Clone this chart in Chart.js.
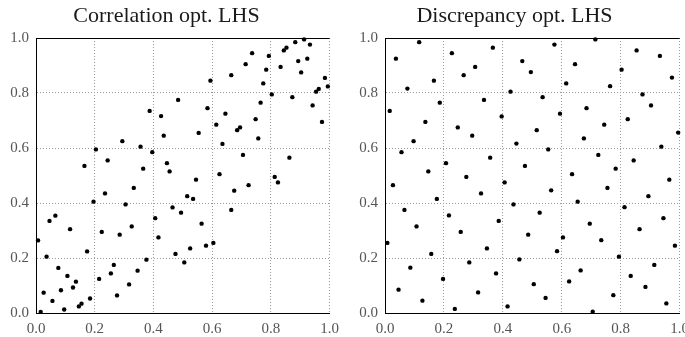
<!DOCTYPE html>
<html>
<head>
<meta charset="utf-8">
<script src="https://cdn.jsdelivr.net/npm/chart.js@4"></script>
<style>
  html, body { margin: 0; padding: 0; background: #fff; overflow: hidden; }
  #wrap { position: relative; width: 685px; height: 337px; overflow: hidden; }
  canvas { position: absolute; top: 0; }
</style>
</head>
<body>
<div id="wrap">
  <canvas id="corr" width="346" height="337" style="left:0"></canvas>
  <canvas id="disc" width="350" height="337" style="left:346px"></canvas>
</div>
<script>
// Correlation optimised LHS
const corrX = [0.484, 0.387, 0.426, 0.435, 0.294, 0.356, 0.204, 0.396, 0.165, 0.244,
  0.446, 0.365, 0.455, 0.333, 0.235, 0.196, 0.305, 0.465, 0.007, 0.046,
  0.066, 0.116, 0.406, 0.224, 0.285, 0.326, 0.417, 0.174, 0.475, 0.036,
  0.376, 0.076, 0.265, 0.107, 0.255, 0.346, 0.136, 0.215, 0.126, 0.317,
  0.026, 0.085, 0.056, 0.276, 0.184, 0.155, 0.146, 0.096, 0.016, 0.913,
  0.883, 0.933, 0.736, 0.844, 0.853, 0.793, 0.924, 0.893, 0.714, 0.833,
  0.784, 0.903, 0.665, 0.594, 0.984, 0.774, 0.994, 0.963, 0.954, 0.803,
  0.873, 0.765, 0.942, 0.584, 0.645, 0.748, 0.614, 0.974, 0.695, 0.685,
  0.554, 0.757, 0.635, 0.705, 0.863, 0.625, 0.813, 0.824, 0.545, 0.675,
  0.724, 0.515, 0.535, 0.494, 0.665, 0.564, 0.604, 0.579, 0.525, 0.505];
const corrY = [0.775, 0.735, 0.716, 0.645, 0.625, 0.605, 0.595, 0.585, 0.535, 0.555,
  0.545, 0.525, 0.515, 0.455, 0.435, 0.405, 0.395, 0.384, 0.264, 0.335,
  0.354, 0.305, 0.345, 0.295, 0.285, 0.315, 0.275, 0.224, 0.215, 0.205,
  0.194, 0.164, 0.175, 0.135, 0.144, 0.154, 0.114, 0.124, 0.093, 0.104,
  0.074, 0.083, 0.044, 0.064, 0.053, 0.034, 0.024, 0.013, 0.004, 0.995,
  0.985, 0.976, 0.945, 0.955, 0.965, 0.935, 0.925, 0.916, 0.905, 0.895,
  0.885, 0.875, 0.865, 0.845, 0.855, 0.835, 0.824, 0.815, 0.805, 0.795,
  0.785, 0.765, 0.755, 0.745, 0.725, 0.705, 0.685, 0.695, 0.675, 0.665,
  0.655, 0.635, 0.615, 0.575, 0.565, 0.505, 0.495, 0.475, 0.485, 0.445,
  0.465, 0.425, 0.415, 0.365, 0.375, 0.325, 0.255, 0.245, 0.235, 0.184];

// Discrepancy optimised LHS
const discX = [0.116, 0.037, 0.366, 0.227, 0.306, 0.267, 0.166, 0.076, 0.336, 0.186,
  0.016, 0.396, 0.137, 0.247, 0.296, 0.097, 0.056, 0.357, 0.207, 0.147,
  0.714, 0.575, 0.854, 0.933, 0.466, 0.645, 0.495, 0.803, 0.974, 0.615,
  0.764, 0.426, 0.874, 0.535, 0.684, 0.903, 0.594, 0.824, 0.744, 0.995,
  0.515, 0.675, 0.446, 0.938, 0.554, 0.724, 0.844, 0.475, 0.783, 0.635,
  0.276, 0.406, 0.027, 0.326, 0.176, 0.066, 0.217, 0.386, 0.107, 0.257,
  0.008, 0.346, 0.157, 0.286, 0.086, 0.377, 0.197, 0.046, 0.316, 0.127,
  0.416, 0.237, 0.965, 0.564, 0.755, 0.894, 0.654, 0.436, 0.813, 0.525,
  0.945, 0.695, 0.864, 0.486, 0.604, 0.734, 0.984, 0.584, 0.456, 0.794,
  0.914, 0.664, 0.834, 0.505, 0.625, 0.884, 0.545, 0.775, 0.955, 0.705];
const discY = [0.985, 0.925, 0.965, 0.945, 0.895, 0.865, 0.845, 0.816, 0.775, 0.765,
  0.735, 0.715, 0.695, 0.675, 0.645, 0.625, 0.585, 0.565, 0.545, 0.515,
  0.995, 0.976, 0.955, 0.935, 0.916, 0.905, 0.876, 0.885, 0.856, 0.835,
  0.825, 0.805, 0.795, 0.785, 0.745, 0.755, 0.725, 0.705, 0.685, 0.656,
  0.665, 0.635, 0.616, 0.605, 0.595, 0.575, 0.555, 0.535, 0.525, 0.505,
  0.495, 0.475, 0.465, 0.435, 0.415, 0.375, 0.355, 0.335, 0.315, 0.295,
  0.255, 0.235, 0.215, 0.184, 0.165, 0.144, 0.124, 0.085, 0.075, 0.045,
  0.024, 0.015, 0.485, 0.446, 0.455, 0.425, 0.405, 0.395, 0.385, 0.365,
  0.345, 0.325, 0.305, 0.285, 0.275, 0.265, 0.245, 0.225, 0.195, 0.205,
  0.175, 0.155, 0.135, 0.105, 0.115, 0.095, 0.055, 0.065, 0.035, 0.005];

const titles = ['Correlation opt. LHS', 'Discrepancy opt. LHS'];
const axisMin = 0, axisMax = 1, axisStep = 0.2;

const serif = "'Liberation Serif', 'DejaVu Serif', serif";

// solid frame line along the top of the plot area
const topFrame = {
  id: 'topFrame',
  beforeDatasetsDraw(chart) {
    const a = chart.chartArea, ctx = chart.ctx;
    ctx.save();
    ctx.strokeStyle = '#000';
    ctx.lineWidth = 1;
    ctx.beginPath();
    ctx.moveTo(a.left, a.top + 0.5);
    ctx.lineTo(a.right, a.top + 0.5);
    ctx.stroke();
    ctx.restore();
  }
};

function makeChart(id, xs, ys, title, yWidth) {
  const pts = xs.map((x, i) => ({ x: x, y: ys[i] }));
  const axis = (fit) => ({
    type: 'linear',
    min: axisMin,
    max: axisMax,
    afterFit: fit,
    ticks: {
      stepSize: axisStep,
      padding: 7,
      color: '#555',
      font: { family: serif, size: 15 },
      callback: (v) => v.toFixed(1)
    },
    grid: { color: '#9a9a9a', lineWidth: 1, drawTicks: false },
    border: { display: true, color: '#000', width: 1, dash: [1, 2] }
  });
  return new Chart(document.getElementById(id), {
    type: 'scatter',
    data: {
      datasets: [{
        data: pts,
        backgroundColor: '#000',
        borderWidth: 0,
        pointRadius: 2.2,
        pointHoverRadius: 2.2,
        clip: false
      }]
    },
    options: {
      responsive: false,
      animation: false,
      devicePixelRatio: 1,
      layout: { padding: { left: 0, right: 13, top: 0, bottom: 0 } },
      plugins: {
        legend: { display: false },
        tooltip: { enabled: false },
        title: {
          display: true,
          text: title,
          color: '#1a1a1a',
          font: { family: serif, size: 22, weight: 'normal', lineHeight: 1.2 },
          padding: { top: 3, bottom: 8.6 }
        }
      },
      scales: {
        x: axis((s) => { s.height = 24; }),
        y: axis((s) => { s.width = yWidth; })
      }
    },
    plugins: [topFrame]
  });
}

makeChart('corr', corrX, corrY, titles[0], 36);
makeChart('disc', discX, discY, titles[1], 39);
</script>
</body>
</html>
